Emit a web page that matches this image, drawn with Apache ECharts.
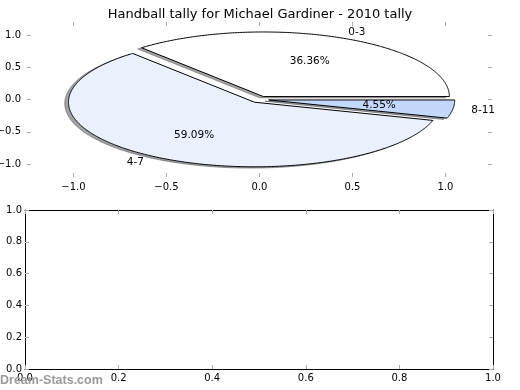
<!DOCTYPE html>
<html>
<head>
<meta charset="utf-8">
<script src="https://cdn.jsdelivr.net/npm/echarts@6/dist/echarts.min.js"></script>
<style>html,body{margin:0;padding:0;background:#fff}#c{width:520px;height:390px}</style>
</head>
<body>
<div id="c"></div>
<script>
const titleText = 'Handball tally for Michael Gardiner - 2010 tally';
const categories = ['0-3', '4-7', '8-11'];
const counts = [8, 13, 1];
const explode = [0.05, 0.05, 0.05];
const pieXTicks = [-1, -0.5, 0, 0.5, 1];
const pieYTicks = [-1, -0.5, 0, 0.5, 1];
const watermark = 'Dream-Stats.com';

const sliceColors = ['#ffffff', '#eaf1fd', '#c4d8fc'];
const FONT = 'DejaVu Sans';
const TICK_COLOR = '#aaaaaa';
const total = counts.reduce((a, b) => a + b, 0);

function sliceAngles(i) {
  let s = 0;
  for (let j = 0; j < i; j++) s += counts[j];
  const t1 = s / total * 360, t2 = (s + counts[i]) / total * 360;
  return [t1, t2, (t1 + t2) / 2 * Math.PI / 180];
}
function wedgePoints(api, i, dx, dy) {
  const [t1, t2, tm] = sliceAngles(i);
  const cx = explode[i] * Math.cos(tm) + dx, cy = explode[i] * Math.sin(tm) + dy;
  const pts = [api.coord([cx, cy])];
  const n = Math.max(4, Math.ceil((t2 - t1) / 0.5));
  for (let k = 0; k <= n; k++) {
    const a = (t1 + (t2 - t1) * k / n) * Math.PI / 180;
    pts.push(api.coord([cx + Math.cos(a), cy + Math.sin(a)]));
  }
  return pts;
}
function shade(hex) {
  const r = parseInt(hex.slice(1, 3), 16), g = parseInt(hex.slice(3, 5), 16), b = parseInt(hex.slice(5, 7), 16);
  return 'rgba(' + Math.round(r * 0.3) + ',' + Math.round(g * 0.3) + ',' + Math.round(b * 0.3) + ',0.5)';
}
const fmtMinus = v => (v < 0 ? '\u2212' : '') + Math.abs(v).toFixed(1);
const tickLabel = {fontSize: 10, color: '#000', fontFamily: FONT};
const hiddenLine = {show: false, onZero: false};
const blackLine = {show: true, onZero: false, lineStyle: {color: '#000', width: 1}};

const sliceData = categories.map((c, i) => ({name: c, value: [0, 0, i]}));

const chart = echarts.init(document.getElementById('c'), null, {renderer: 'canvas'});
chart.setOption({
  animation: false,
  title: {text: titleText, left: 'center', top: 3,
    textStyle: {fontSize: 13, fontWeight: 'normal', fontFamily: FONT, color: '#000'}},
  grid: [
    {left: 27, top: 22, width: 465, height: 155, containLabel: false, outerBoundsMode: 'none'},
    {left: 25, top: 210, width: 468, height: 159, containLabel: false, outerBoundsMode: 'none'}
  ],
  xAxis: [
    {gridIndex: 0, type: 'value', min: -1.25, max: 1.25, position: 'bottom',
      axisLine: hiddenLine, splitLine: {show: false},
      axisTick: {inside: true, length: 4, customValues: pieXTicks, lineStyle: {color: TICK_COLOR}},
      axisLabel: Object.assign({customValues: pieXTicks, formatter: fmtMinus, margin: 5}, tickLabel)},
    {gridIndex: 0, type: 'value', min: -1.25, max: 1.25, position: 'top',
      axisLine: hiddenLine, splitLine: {show: false},
      axisTick: {inside: true, length: 4, customValues: pieXTicks, lineStyle: {color: TICK_COLOR}},
      axisLabel: {show: false}},
    {gridIndex: 1, type: 'value', min: 0, max: 1, interval: 0.2, position: 'bottom',
      axisLine: blackLine, splitLine: {show: false},
      axisTick: {inside: true, length: 4, lineStyle: {color: TICK_COLOR}},
      axisLabel: Object.assign({formatter: v => v.toFixed(1), margin: 4, showMinLabel: true, showMaxLabel: true}, tickLabel)},
    {gridIndex: 1, type: 'value', min: 0, max: 1, interval: 0.2, position: 'top',
      axisLine: blackLine, splitLine: {show: false},
      axisTick: {inside: true, length: 4, lineStyle: {color: TICK_COLOR}},
      axisLabel: {show: false}}
  ],
  yAxis: [
    {gridIndex: 0, type: 'value', min: -1.2, max: 1.2, position: 'left',
      axisLine: hiddenLine, splitLine: {show: false},
      axisTick: {inside: true, length: 4, customValues: pieYTicks, lineStyle: {color: TICK_COLOR}},
      axisLabel: Object.assign({customValues: pieYTicks, formatter: fmtMinus, margin: 6}, tickLabel)},
    {gridIndex: 0, type: 'value', min: -1.2, max: 1.2, position: 'right',
      axisLine: hiddenLine, splitLine: {show: false},
      axisTick: {inside: true, length: 4, customValues: pieYTicks, lineStyle: {color: TICK_COLOR}},
      axisLabel: {show: false}},
    {gridIndex: 1, type: 'value', min: 0, max: 1, interval: 0.2, position: 'left',
      axisLine: blackLine, splitLine: {show: false},
      axisTick: {inside: true, length: 4, lineStyle: {color: TICK_COLOR}},
      axisLabel: Object.assign({formatter: v => v.toFixed(1), margin: 3, showMinLabel: true, showMaxLabel: true}, tickLabel)},
    {gridIndex: 1, type: 'value', min: 0, max: 1, interval: 0.2, position: 'right',
      axisLine: blackLine, splitLine: {show: false},
      axisTick: {inside: true, length: 4, lineStyle: {color: TICK_COLOR}},
      axisLabel: {show: false}}
  ],
  graphic: [
    {type: 'text', left: 0, top: 374, z: 100,
      style: {text: watermark, fill: '#9a9a9a', font: 'bold 12.5px "Liberation Sans"'}}
  ],
  series: [
    {type: 'custom', name: 'shadow', xAxisIndex: 0, yAxisIndex: 0, z: 1, silent: true, clip: false,
      data: sliceData,
      renderItem: function (params, api) {
        const i = params.dataIndex;
        return {type: 'polygon', shape: {points: wedgePoints(api, i, -0.02, -0.02)},
          style: {fill: shade(sliceColors[i]), stroke: shade(sliceColors[i]), lineWidth: 1}};
      }},
    {type: 'custom', name: 'wedges', xAxisIndex: 0, yAxisIndex: 0, z: 2, silent: true, clip: false,
      data: sliceData,
      renderItem: function (params, api) {
        const i = params.dataIndex;
        return {type: 'polygon', shape: {points: wedgePoints(api, i, 0, 0)},
          style: {fill: sliceColors[i], stroke: '#000', lineWidth: 1, lineJoin: 'miter'}};
      }},
    {type: 'custom', name: 'labels', xAxisIndex: 0, yAxisIndex: 0, z: 3, silent: true, clip: false,
      data: sliceData,
      renderItem: function (params, api) {
        const i = params.dataIndex;
        const tm = sliceAngles(i)[2];
        const ex = explode[i] * Math.cos(tm), ey = explode[i] * Math.sin(tm);
        const lx = ex + 1.1 * Math.cos(tm), ly = ey + 1.1 * Math.sin(tm);
        const px = ex + 0.6 * Math.cos(tm), py = ey + 0.6 * Math.sin(tm);
        const lp = api.coord([lx, ly]), pp = api.coord([px, py]);
        return {type: 'group', children: [
          {type: 'text', x: lp[0], y: lp[1], style: {text: categories[i], fill: '#000',
            font: '10.5px "DejaVu Sans"', align: lx > 0 ? 'left' : 'right', verticalAlign: 'middle'}},
          {type: 'text', x: pp[0], y: pp[1], style: {text: (counts[i] / total * 100).toFixed(2) + '%', fill: '#000',
            font: '10.5px "DejaVu Sans"', align: 'center', verticalAlign: 'middle'}}
        ]};
      }}
  ]
});
</script>
</body>
</html>
